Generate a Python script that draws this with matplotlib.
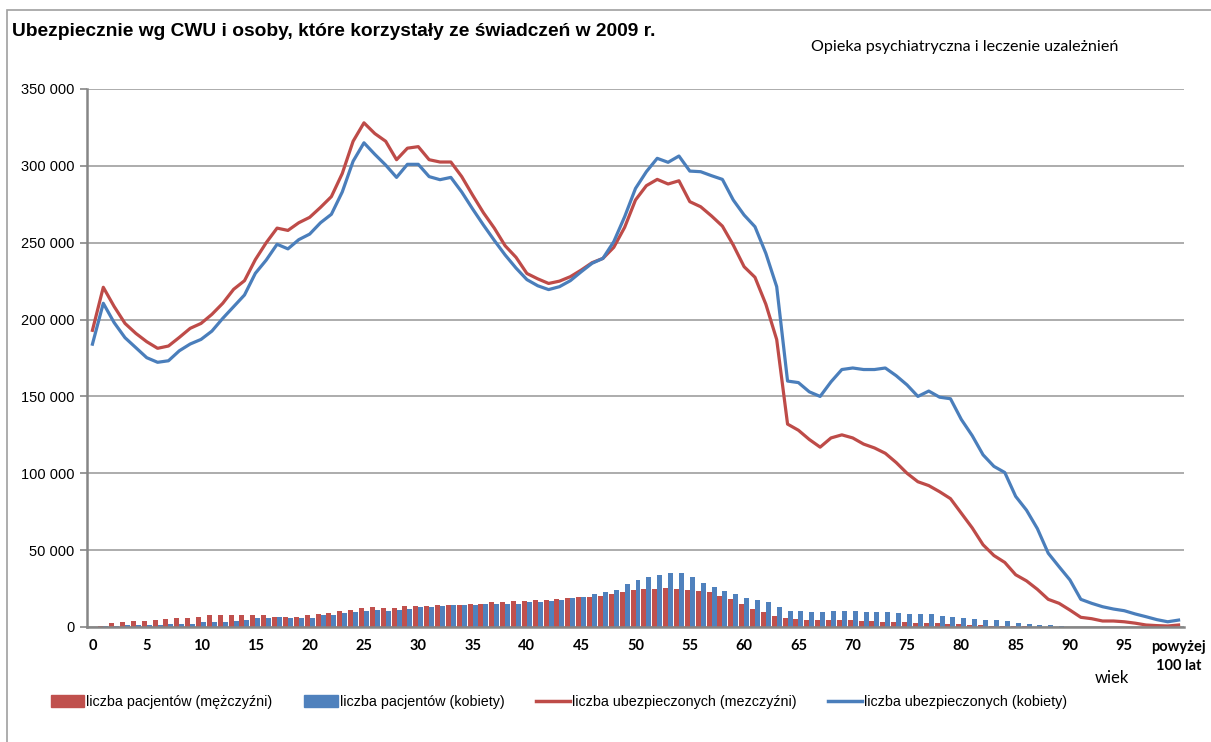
import matplotlib
matplotlib.use("Agg")
import matplotlib.pyplot as plt
from matplotlib.patches import Rectangle, Patch
from matplotlib.lines import Line2D
import numpy as np

# ---------------- data ----------------
categories = [str(i) for i in range(100)] + ["powyżej\n100 lat"]

men_insured = [
    193000, 221000, 208500, 197500, 191000, 185600, 181300, 182800, 188400, 194300,
    197500, 203400, 210600, 219700, 225300, 239000, 250000, 259500, 258000, 263000,
    266500, 273000, 280000, 295000, 316000, 328000, 321000, 316000, 304000, 311500,
    312500, 304000, 302500, 302500, 293000, 281000, 269500, 259500, 248000, 240500,
    230000, 226500, 223500, 225000, 227900, 232200, 237000, 239800, 247000, 260000,
    277800, 287100, 291200, 288200, 290300, 276700, 273400, 267400, 260800, 248500,
    234400, 227500, 210000, 187000, 132000, 128000, 122000, 117000, 123000, 125000,
    123000, 119000, 116500, 113000, 107000, 100000, 94500, 92000, 88000, 83500,
    74000, 64500, 53500, 46500, 42000, 34000, 30000, 24500, 18000, 15400,
    11000, 6300, 5400, 3900, 3900, 3400, 2500, 1300, 900, 650,
    1300,
]

women_insured = [
    184000, 210600, 198000, 188200, 181700, 175200, 172200, 173200, 179700, 184100,
    187100, 192500, 200800, 208400, 216000, 230100, 238700, 249000, 246000, 252000,
    255600, 263000, 268500, 283000, 303000, 315000, 307500, 300500, 292500, 301000,
    301000, 293000, 291000, 292500, 283000, 272000, 261500, 251500, 242000, 233500,
    226000, 222000, 219500, 221400, 225300, 231100, 236600, 239800, 250700, 266900,
    285300, 296200, 304900, 302300, 306400, 296600, 296200, 293600, 291200, 277800,
    268000, 260400, 243100, 221400, 160000, 159000, 153000, 150000, 159500, 167500,
    168500, 167500, 167500, 168500, 163500, 157500, 150000, 153500, 149500, 148500,
    135000, 124500, 112000, 104500, 100500, 85000, 76000, 64000, 48000, 39200,
    30600, 18000, 15400, 13200, 11700, 10600, 8500, 6700, 4800, 3400,
    4500,
]

men_patients = [
    300, 600, 2600, 3250, 3900, 3900, 4770, 5420, 6070, 6070,
    6720, 7590, 7590, 7590, 7590, 7590, 7590, 6720, 6720, 6720,
    7590, 8460, 9100, 10400, 11300, 12100, 12800, 12100, 12100, 13400,
    13400, 13400, 14500, 14500, 14500, 15200, 15200, 16000, 16000, 16700,
    16700, 17300, 17300, 18000, 18900, 19500, 19500, 20200, 21700, 22800,
    23800, 24900, 24900, 25600, 24900, 23800, 23200, 22500, 20200, 18000,
    15200, 11900, 9800, 7400, 5900, 5200, 4600, 4600, 4300, 4300,
    4300, 3900, 3700, 3500, 3300, 3000, 2800, 2600, 2300, 2000,
    1700, 1400, 1100, 900, 700, 500, 400, 300, 200, 150,
    100, 80, 60, 50, 40, 30, 20, 15, 10, 5,
    5,
]

women_patients = [
    200, 500, 800, 1100, 1500, 1500, 1500, 2200, 2200, 2200,
    3000, 3000, 3000, 3700, 4300, 6100, 6100, 6700, 6100, 6100,
    6100, 7600, 7600, 9100, 9800, 10400, 11300, 10400, 11300, 11900,
    12800, 12800, 13400, 14500, 14500, 14500, 15200, 15200, 15200, 15200,
    16000, 16000, 16700, 17300, 18900, 19500, 21200, 22800, 23800, 28000,
    30800, 32300, 33800, 35300, 35300, 32300, 28600, 26200, 23200, 21200,
    18900, 17300, 16000, 12800, 10600, 10400, 9800, 9800, 10400, 10400,
    10400, 9800, 9800, 9800, 9100, 8200, 8200, 8200, 7400, 6700,
    5900, 5200, 4300, 4300, 3700, 2800, 2200, 1500, 1500, 500,
    300, 200, 150, 100, 80, 60, 40, 30, 20, 10,
    10,
]

yticks = [0, 50000, 100000, 150000, 200000, 250000, 300000, 350000]
ytick_labels = ["0", "50 000", "100 000", "150 000", "200 000", "250 000", "300 000", "350 000"]

title = "Ubezpiecznie wg CWU i osoby, które korzystały ze świadczeń w 2009 r."
subtitle = "Opieka psychiatryczna i leczenie uzależnień"
xlabel = "wiek"
legend_labels = ["liczba pacjentów (mężczyźni)", "liczba pacjentów (kobiety)",
                 "liczba ubezpieczonych (mezczyźni)", "liczba ubezpieczonych (kobiety)"]

# ---------------- style ----------------
RED = "#C0504D"
BLUE = "#4F81BD"
RED_L = "#BE4B48"
BLUE_L = "#4A7EBB"
NARROW = ["Liberation Sans Narrow", "Liberation Sans", "DejaVu Sans"]
SANS = ["Lato", "DejaVu Sans"]

W, H = 1211, 742
fig = plt.figure(figsize=(W / 100, H / 100), dpi=100)
fig.patch.set_facecolor("white")

# chart border
fig.add_artist(Rectangle((7 / W, -0.05), 1.2, 1 - 10 / H + 0.05, transform=fig.transFigure,
                         fill=False, edgecolor="#A0A0A0", lw=1.2))

ax = fig.add_axes([87 / W, 1 - 627 / H, 1097 / W, 538 / H])

x = np.arange(len(categories))
bw = 0.46
ax.bar(x - bw / 2, men_patients, width=bw, color=RED, zorder=2, linewidth=0)
ax.bar(x + bw / 2, women_patients, width=bw, color=BLUE, zorder=2, linewidth=0)
ax.plot(x, men_insured, color=RED_L, lw=2.3, zorder=3, solid_joinstyle="round")
ax.plot(x, women_insured, color=BLUE_L, lw=2.3, zorder=3, solid_joinstyle="round")

ax.set_xlim(-0.5, len(categories) - 0.5)
ax.set_ylim(0, 350000)
ax.set_yticks(yticks)
ax.set_yticklabels(ytick_labels, fontfamily=NARROW, fontsize=10.5)
ax.yaxis.grid(True, color="#A6A6A6", lw=1.3, zorder=0)
ax.set_axisbelow(True)

shown = [i for i in range(len(categories)) if i % 5 == 0 and i < 100] + [len(categories) - 1]
ax.set_xticks(shown)
ax.set_xticklabels([categories[i] for i in shown], fontfamily=SANS, fontsize=10.5,
                   fontweight="bold", linespacing=1.5)
ax.tick_params(axis="x", length=0, pad=9)
ax.tick_params(axis="y", length=5, width=1.2, color="#868686", pad=4)

for s in ["top", "right"]:
    ax.spines[s].set_visible(False)
for s in ["left", "bottom"]:
    ax.spines[s].set_color("#868686")
    ax.spines[s].set_linewidth(1.8)
ax.spines["bottom"].set_zorder(4)

fig.text(12 / W, 1 - 31 / H, title, fontfamily=NARROW, fontsize=13.8, fontweight="bold",
         va="center", ha="left")
fig.text(1118 / W, 1 - 47 / H, subtitle, fontfamily=SANS, fontsize=11.6,
         va="center", ha="right")
fig.text(1112 / W, 1 - 678 / H, xlabel, fontfamily=SANS, fontsize=12,
         va="center", ha="center")

handles = [Patch(color=RED), Patch(color=BLUE),
           Line2D([], [], color=RED_L, lw=2.5), Line2D([], [], color=BLUE_L, lw=2.5)]
fig.legend(handles, legend_labels, ncol=4, loc="center left",
           bbox_to_anchor=(45 / W, 1 - 702 / H), frameon=False,
           prop={"family": NARROW, "size": 10.3}, handlelength=2.35, handleheight=0.85,
           handletextpad=0.15, columnspacing=2.2, borderaxespad=0)

fig.savefig("out.png", dpi=100)
